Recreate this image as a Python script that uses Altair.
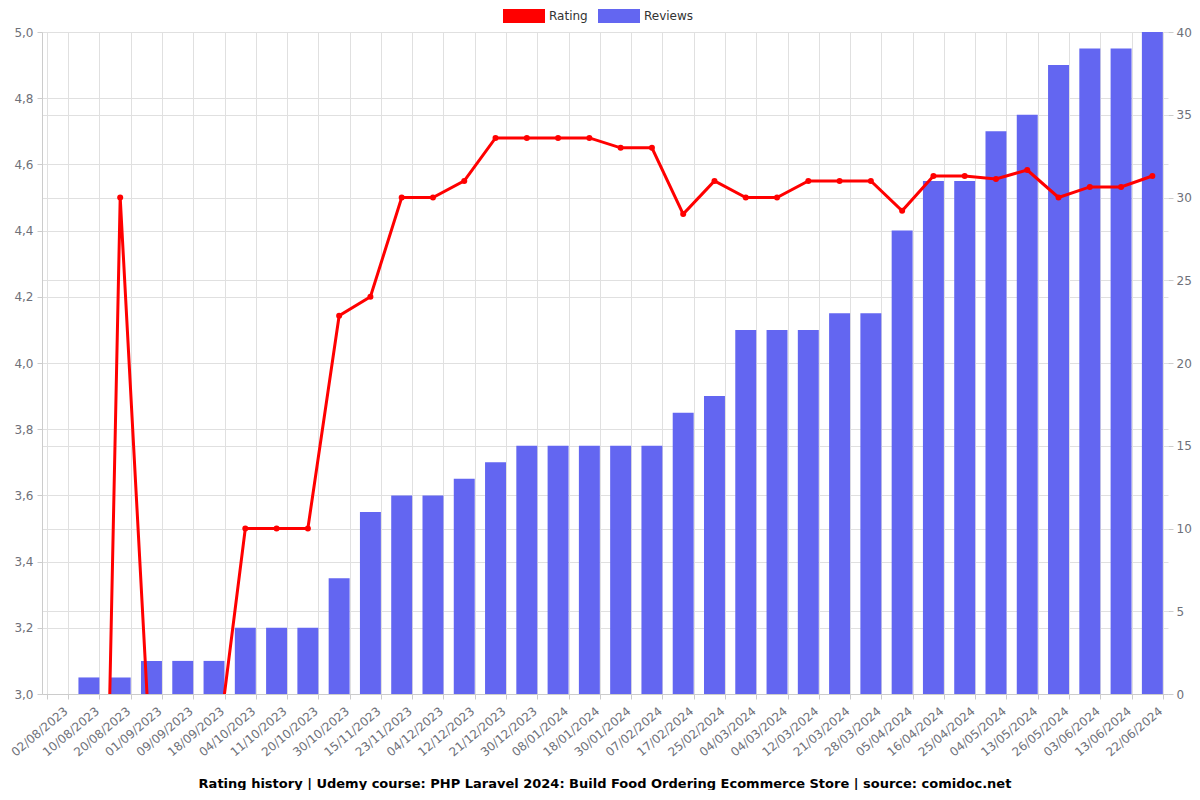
import altair as alt
import pandas as pd

dates = ["02/08/2023", "10/08/2023", "20/08/2023", "01/09/2023", "09/09/2023", "18/09/2023",
         "04/10/2023", "11/10/2023", "20/10/2023", "30/10/2023", "15/11/2023", "23/11/2023",
         "04/12/2023", "12/12/2023", "21/12/2023", "30/12/2023", "08/01/2024", "18/01/2024",
         "30/01/2024", "07/02/2024", "17/02/2024", "25/02/2024", "04/03/2024", "04/03/2024",
         "12/03/2024", "21/03/2024", "28/03/2024", "05/04/2024", "16/04/2024", "25/04/2024",
         "04/05/2024", "13/05/2024", "26/05/2024", "03/06/2024", "13/06/2024", "22/06/2024"]
reviews = [0, 1, 1, 2, 2, 2, 4, 4, 4, 7, 11, 12, 12, 13, 14, 15, 15, 15, 15, 15, 17, 18,
           22, 22, 22, 23, 23, 28, 31, 31, 34, 35, 38, 39, 39, 40]
ratings = [0, 0, 4.5, 2.75, 2.75, 2.75, 3.5, 3.5, 3.5, 4.143, 4.2, 4.5, 4.5, 4.55, 4.68, 4.68,
           4.68, 4.68, 4.65, 4.65, 4.45, 4.55, 4.5, 4.5, 4.55, 4.55, 4.55, 4.46, 4.565, 4.565,
           4.556, 4.583, 4.5, 4.532, 4.532, 4.565]
rating_ticks = [3.0, 3.2, 3.4, 3.6, 3.8, 4.0, 4.2, 4.4, 4.6, 4.8, 5.0]
review_ticks = [0, 5, 10, 15, 20, 25, 30, 35, 40]
series_names = ["Rating", "Reviews"]
series_colors = ["#ff0000", "#6366f1"]
title_text = "Rating history | Udemy course: PHP Laravel 2024: Build Food Ordering Ecommerce Store | source: comidoc.net"

df = pd.DataFrame({"idx": list(range(len(dates))), "date": dates,
                   "reviews": reviews, "rating": ratings})

label_expr = "[" + ",".join(f"'{d}'" for d in dates) + "][datum.value]"

x = alt.X("idx:O", title=None,
          scale=alt.Scale(paddingInner=0.33, paddingOuter=0.165),
          axis=alt.Axis(labelExpr=label_expr, labelAngle=-40, labelAlign="right",
                        labelBaseline="middle", labelPadding=10, labelOffset=8,
                        tickBand="extent", grid=True, ticks=True, tickSize=5, domain=True))

color = alt.Color("series:N", title=None,
                  scale=alt.Scale(domain=series_names, range=series_colors),
                  legend=alt.Legend(orient="none", legendX=461, legendY=-37, direction="horizontal",
                                    symbolType="M-1,-0.33L1,-0.33L1,0.33L-1,0.33Z",
                                    symbolSize=1764, symbolStrokeWidth=0, columnPadding=10,
                                    labelFontSize=12, labelColor="#333333",
                                    labelFont="DejaVu Sans"))

bars = alt.Chart(df).transform_calculate(series="'Reviews'").mark_bar().encode(
    x=x,
    y=alt.Y("reviews:Q", title=None, scale=alt.Scale(domain=[0, 40], nice=False),
            axis=alt.Axis(orient="right", values=review_ticks, grid=True, tickSize=5,
                          labelPadding=3, domain=False)),
    color=color,
)

rating_y = alt.Y("rating:Q", title=None, scale=alt.Scale(domain=[3, 5], nice=False),
                 axis=alt.Axis(orient="left", values=rating_ticks, grid=True, tickSize=5,
                               labelPadding=4,
                               labelExpr="replace(format(datum.value, '.1f'), '.', ',')"))

line = alt.Chart(df).transform_calculate(series="'Rating'").mark_line(
    strokeWidth=3, clip=True).encode(x=x, y=rating_y, color=color)
points = alt.Chart(df).transform_calculate(series="'Rating'").mark_point(
    filled=True, size=36, opacity=1, clip=True).encode(x=x, y=rating_y, color=color)

rating_layer = alt.layer(line, points)

chart = alt.layer(bars, rating_layer).resolve_scale(y="independent").properties(
    width=1126, height=662,
    autosize=alt.AutoSizeParams(type="none"),
    padding={"left": 34, "top": 24, "right": 24, "bottom": 96},
    title=alt.TitleParams(title_text, orient="bottom", anchor="middle", fontSize=13,
                          fontWeight="bold", font="DejaVu Sans", color="#000000", offset=20),
).configure_view(stroke=None).configure_axis(
    labelFont="DejaVu Sans", labelFontSize=12, labelColor="#6e7079",
    gridColor="#e0e0e0", domainColor="#cccccc", tickColor="#cccccc",
)

chart.save("out.html", embed_options={"renderer": "svg", "actions": False})
